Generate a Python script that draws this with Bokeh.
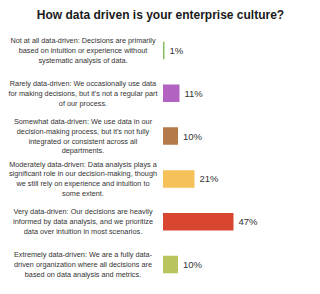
from bokeh.plotting import figure
from bokeh.models import Range1d, ColumnDataSource, Label
from bokeh.core.properties import value
from bokeh.embed import file_html
from bokeh.resources import INLINE

title_text = "How data driven is your enterprise culture?"

categories = [
    "Not at all data-driven: Decisions are primarily\nbased on intuition or experience without\nsystematic analysis of data.",
    "Rarely data-driven: We occasionally use data\nfor making decisions, but it's not a regular part\nof our process.",
    "Somewhat data-driven: We use data in our\ndecision-making process, but it's not fully\nintegrated or consistent across all\ndepartments.",
    "Moderately data-driven: Data analysis plays a\nsignificant role in our decision-making, though\nwe still rely on experience and intuition to\nsome extent.",
    "Very data-driven: Our decisions are heavily\ninformed by data analysis, and we prioritize\ndata over intuition in most scenarios.",
    "Extremely data-driven: We are a fully data-\ndriven organization where all decisions are\nbased on data analysis and metrics.",
]
percent = [1, 11, 10, 21, 47, 10]
colors = ["#86bd5e", "#b263c1", "#b57a4a", "#f7c15a", "#d9462f", "#bac45e"]

W, H = 320, 294
px_per_unit = 1.5
x0_px = 162.5
row0_px = 50.0
row_step = 42.8

idx = list(range(len(percent)))
src = ColumnDataSource(dict(
    y=idx,
    v=percent,
    color=colors,
    cat=categories,
    lbl=[f"{p}%" for p in percent],
    zero=[0] * len(percent),
))

p = figure(
    width=W, height=H,
    x_range=Range1d(-x0_px / px_per_unit, (W - x0_px) / px_per_unit),
    y_range=Range1d((H - row0_px) / row_step, -row0_px / row_step),
    output_backend="svg", toolbar_location=None,
    min_border=0, min_border_left=0, min_border_right=0,
    min_border_top=0, min_border_bottom=0,
)
p.axis.visible = False
p.grid.visible = False
p.outline_line_color = None
p.background_fill_color = "white"
p.border_fill_color = "white"

p.hbar(y="y", left="zero", right="v", height=17.5 / row_step,
       fill_color="color", line_color=None, source=src)

p.text(x="v", y="y", text="lbl", source=src, x_offset=5,
       text_align="left", text_baseline="middle",
       text_font=value("Liberation Sans"), text_font_size="9.5px",
       text_color="#333333")

p.text(x="zero", y="y", text="cat", source=src, x_offset=-80,
       text_align="center", text_baseline="middle",
       text_font=value("Liberation Sans"), text_font_size="7.3px",
       text_line_height=1.1, text_color="#333333")

p.add_layout(Label(x=160, y=H - 14, x_units="screen", y_units="screen",
                   text=title_text, text_align="center", text_baseline="middle",
                   text_font="Liberation Sans", text_font_style="bold",
                   text_font_size="12px", text_color="#1a1a1a"))

open("out.html", "w").write(file_html(p, INLINE))
